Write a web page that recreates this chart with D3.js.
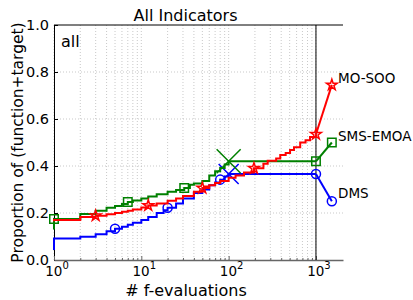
<!DOCTYPE html>
<html>
<head>
<meta charset="utf-8">
<script src="https://cdn.jsdelivr.net/npm/d3@7"></script>
<style>
body { margin: 0; background: #fff; }
text { font-family: "DejaVu Sans", sans-serif; fill: #000; }
</style>
</head>
<body>
<script>
// ECDF data (x = # f-evaluations, y = proportion)
var dmsX = [1, 1, 2, 3, 4, 5, 6, 7, 8, 10, 12, 15, 18, 20, 25, 30, 40, 50, 60, 70, 80, 90, 100, 1000];
var dmsY = [0.043, 0.092, 0.099, 0.11, 0.122, 0.133, 0.142, 0.15, 0.158, 0.17, 0.183, 0.2, 0.212, 0.222, 0.24, 0.262, 0.285, 0.3, 0.318, 0.33, 0.342, 0.355, 0.366, 0.366];
var dmsTail = [1520, 0.25];
var dmsMarks = [5, 20, 80, 1000];
var dmsCross = [100, 0.366];

var smsX = [1, 1, 2, 3, 4, 5, 6, 7, 8, 10, 12, 15, 20, 25, 31, 36, 40, 50, 60, 70, 80, 90, 100, 1000];
var smsY = [0.13, 0.174, 0.196, 0.21, 0.222, 0.23, 0.238, 0.247, 0.253, 0.262, 0.27, 0.28, 0.29, 0.298, 0.306, 0.32, 0.326, 0.336, 0.36, 0.378, 0.392, 0.406, 0.42, 0.42];
var smsTail = [1520, 0.5];
var smsMarks = [1, 7, 31, 1000];
var smsCross = [100, 0.42];

var mosX = [1, 1, 2, 3, 4, 5, 6, 7, 8, 10, 12, 15, 20, 25, 30, 40, 50, 60, 70, 80, 100, 120, 150, 195, 250, 280, 350, 390, 450, 505, 560, 660, 760, 855, 1000];
var mosY = [0.165, 0.17, 0.183, 0.188, 0.195, 0.2, 0.205, 0.21, 0.215, 0.223, 0.232, 0.24, 0.252, 0.262, 0.272, 0.29, 0.306, 0.318, 0.328, 0.336, 0.35, 0.36, 0.372, 0.39, 0.41, 0.422, 0.432, 0.447, 0.455, 0.468, 0.48, 0.5, 0.51, 0.523, 0.535];
var mosTail = [1520, 0.745];
var mosMarks = [3, 12, 50, 195, 1000];

var yTicks = [0, 0.2, 0.4, 0.6, 0.8, 1.0];
var xTicks = [1, 10, 100, 1000];
var budget = 1000;

var width = 413, height = 300;
var margin = {top: 25, right: 70, bottom: 40, left: 54};

var svg = d3.select('body').append('svg')
	.attr('width', width).attr('height', height);

var x = d3.scaleLog().domain([1, 2040]).range([margin.left, width - margin.right]);
var y = d3.scaleLinear().domain([0, 1]).range([height - margin.bottom, margin.top]);

// grid
var minor = [];
[1, 10, 100].forEach(function (d) {
	for (var k = 1; k < 10; k++) minor.push(d * k);
});
minor.push(1000);

svg.append('g').selectAll('line').data(minor).enter().append('line')
	.attr('x1', function (d) { return x(d); })
	.attr('x2', function (d) { return x(d); })
	.attr('y1', y(0)).attr('y2', y(1))
	.attr('stroke', '#bbb').attr('stroke-width', 0.8)
	.attr('stroke-dasharray', '1,2');

svg.append('g').selectAll('line').data(yTicks.slice(1, 5)).enter().append('line')
	.attr('x1', x.range()[0]).attr('x2', x.range()[1])
	.attr('y1', function (d) { return y(d); })
	.attr('y2', function (d) { return y(d); })
	.attr('stroke', '#bbb').attr('stroke-width', 0.8)
	.attr('stroke-dasharray', '1,2');

// axes
var yAxis = svg.append('g').attr('transform', 'translate(' + margin.left + ',0)')
	.call(d3.axisLeft(y).tickValues(yTicks).tickFormat(d3.format('.1f')).tickSizeInner(-4).tickSizeOuter(0).tickPadding(5));
yAxis.select('.domain').attr('stroke', '#000');
yAxis.selectAll('text').style('font-size', '14.5px').style('font-family', '"DejaVu Sans", sans-serif');

var xAxis = svg.append('g').attr('transform', 'translate(0,' + y(0) + ')')
	.call(d3.axisBottom(x).tickValues(minor).tickSizeInner(-2).tickSizeOuter(0).tickFormat(''));
xAxis.select('.domain').attr('stroke', '#666').attr('stroke-width', 1.5);
xAxis.selectAll('.tick line')
	.attr('y2', function (d) { return xTicks.indexOf(d) >= 0 ? -4 : -2; })
	.attr('stroke', '#666');

var xl = svg.append('g').selectAll('text').data(xTicks).enter().append('text')
	.attr('x', function (d) { return x(d) + 3; })
	.attr('y', y(0) + 16)
	.attr('text-anchor', 'middle')
	.style('font-size', '13.5px');
xl.append('tspan').text('10');
xl.append('tspan').attr('dy', -7).style('font-size', '10px')
	.text(function (d) { return Math.round(Math.log10(d)); });

// top frame line
svg.append('line')
	.attr('x1', x.range()[0]).attr('x2', x.range()[1])
	.attr('y1', y(1)).attr('y2', y(1))
	.attr('stroke', '#000').attr('stroke-width', 1);

// budget line
svg.append('line')
	.attr('x1', x(budget)).attr('x2', x(budget))
	.attr('y1', y(0)).attr('y2', y(1))
	.attr('stroke', '#000').attr('stroke-width', 1);

// curves
var series = [
	{name: 'DMS', color: '#0000ff', xs: dmsX, ys: dmsY, tail: dmsTail, marks: dmsMarks, marker: 'circle', cross: dmsCross, cs: 10, ly: 198},
	{name: 'SMS-EMOA', color: '#008000', xs: smsX, ys: smsY, tail: smsTail, marks: smsMarks, marker: 'square', cross: smsCross, cs: 12, ly: 141},
	{name: 'MO-SOO', color: '#ff0000', xs: mosX, ys: mosY, tail: mosTail, marks: mosMarks, marker: 'star', cross: null, ly: 83}
];

var line = d3.line().curve(d3.curveStepAfter)
	.x(function (d) { return x(d[0]); })
	.y(function (d) { return y(d[1]); });

function valueAt(s, v) {
	var r = s.ys[0];
	for (var i = 0; i < s.xs.length; i++) if (s.xs[i] <= v) r = s.ys[i];
	return r;
}

series.forEach(function (s) {
	var pts = s.xs.map(function (v, i) { return [v, s.ys[i]]; });
	var g = svg.append('g');
	g.append('path').attr('d', line(pts))
		.attr('fill', 'none').attr('stroke', s.color).attr('stroke-width', 2);
	var last = pts[pts.length - 1];
	g.append('line')
		.attr('x1', x(last[0])).attr('y1', y(last[1]))
		.attr('x2', x(s.tail[0])).attr('y2', y(s.tail[1]))
		.attr('stroke', s.color).attr('stroke-width', 2);

	if (s.cross) {
		var cx = x(s.cross[0]), cy = y(s.cross[1]), c = s.cs;
		g.append('path')
			.attr('d', 'M' + (cx - c) + ',' + (cy - c) + 'L' + (cx + c) + ',' + (cy + c) +
				'M' + (cx - c) + ',' + (cy + c) + 'L' + (cx + c) + ',' + (cy - c))
			.attr('stroke', s.color).attr('stroke-width', 1.5).attr('fill', 'none');
	}

	var mpts = s.marks.map(function (v) { return [v, valueAt(s, v)]; });
	mpts.push(s.tail);
	var sym = s.marker === 'circle' ? d3.symbolCircle : s.marker === 'square' ? d3.symbolSquare : d3.symbolStar;
	var size = s.marker === 'circle' ? 64 : s.marker === 'square' ? 72 : 36;
	g.selectAll('.m').data(mpts).enter().append('path')
		.attr('transform', function (d) { return 'translate(' + x(d[0]) + ',' + y(d[1]) + ')'; })
		.attr('d', d3.symbol().type(sym).size(size))
		.attr('fill', 'none').attr('stroke', s.color).attr('stroke-width', 1.5);

	svg.append('text').attr('x', 338).attr('y', s.ly)
		.style('font-size', '13.5px').text(s.name);
});

// titles
svg.append('text').attr('x', (x.range()[0] + x.range()[1]) / 2 - 13).attr('y', 21)
	.attr('text-anchor', 'middle').style('font-size', '16px').text('All Indicators');
svg.append('text').attr('x', 61).attr('y', 47).style('font-size', '16px').text('all');
svg.append('text').attr('x', 186).attr('y', 296)
	.attr('text-anchor', 'middle').style('font-size', '16px').text('# f-evaluations');
svg.append('text')
	.attr('transform', 'translate(23,' + ((y(0) + y(1)) / 2) + ') rotate(-90)')
	.attr('text-anchor', 'middle').style('font-size', '15.5px').text('Proportion of (function+target)');
</script>
</body>
</html>
